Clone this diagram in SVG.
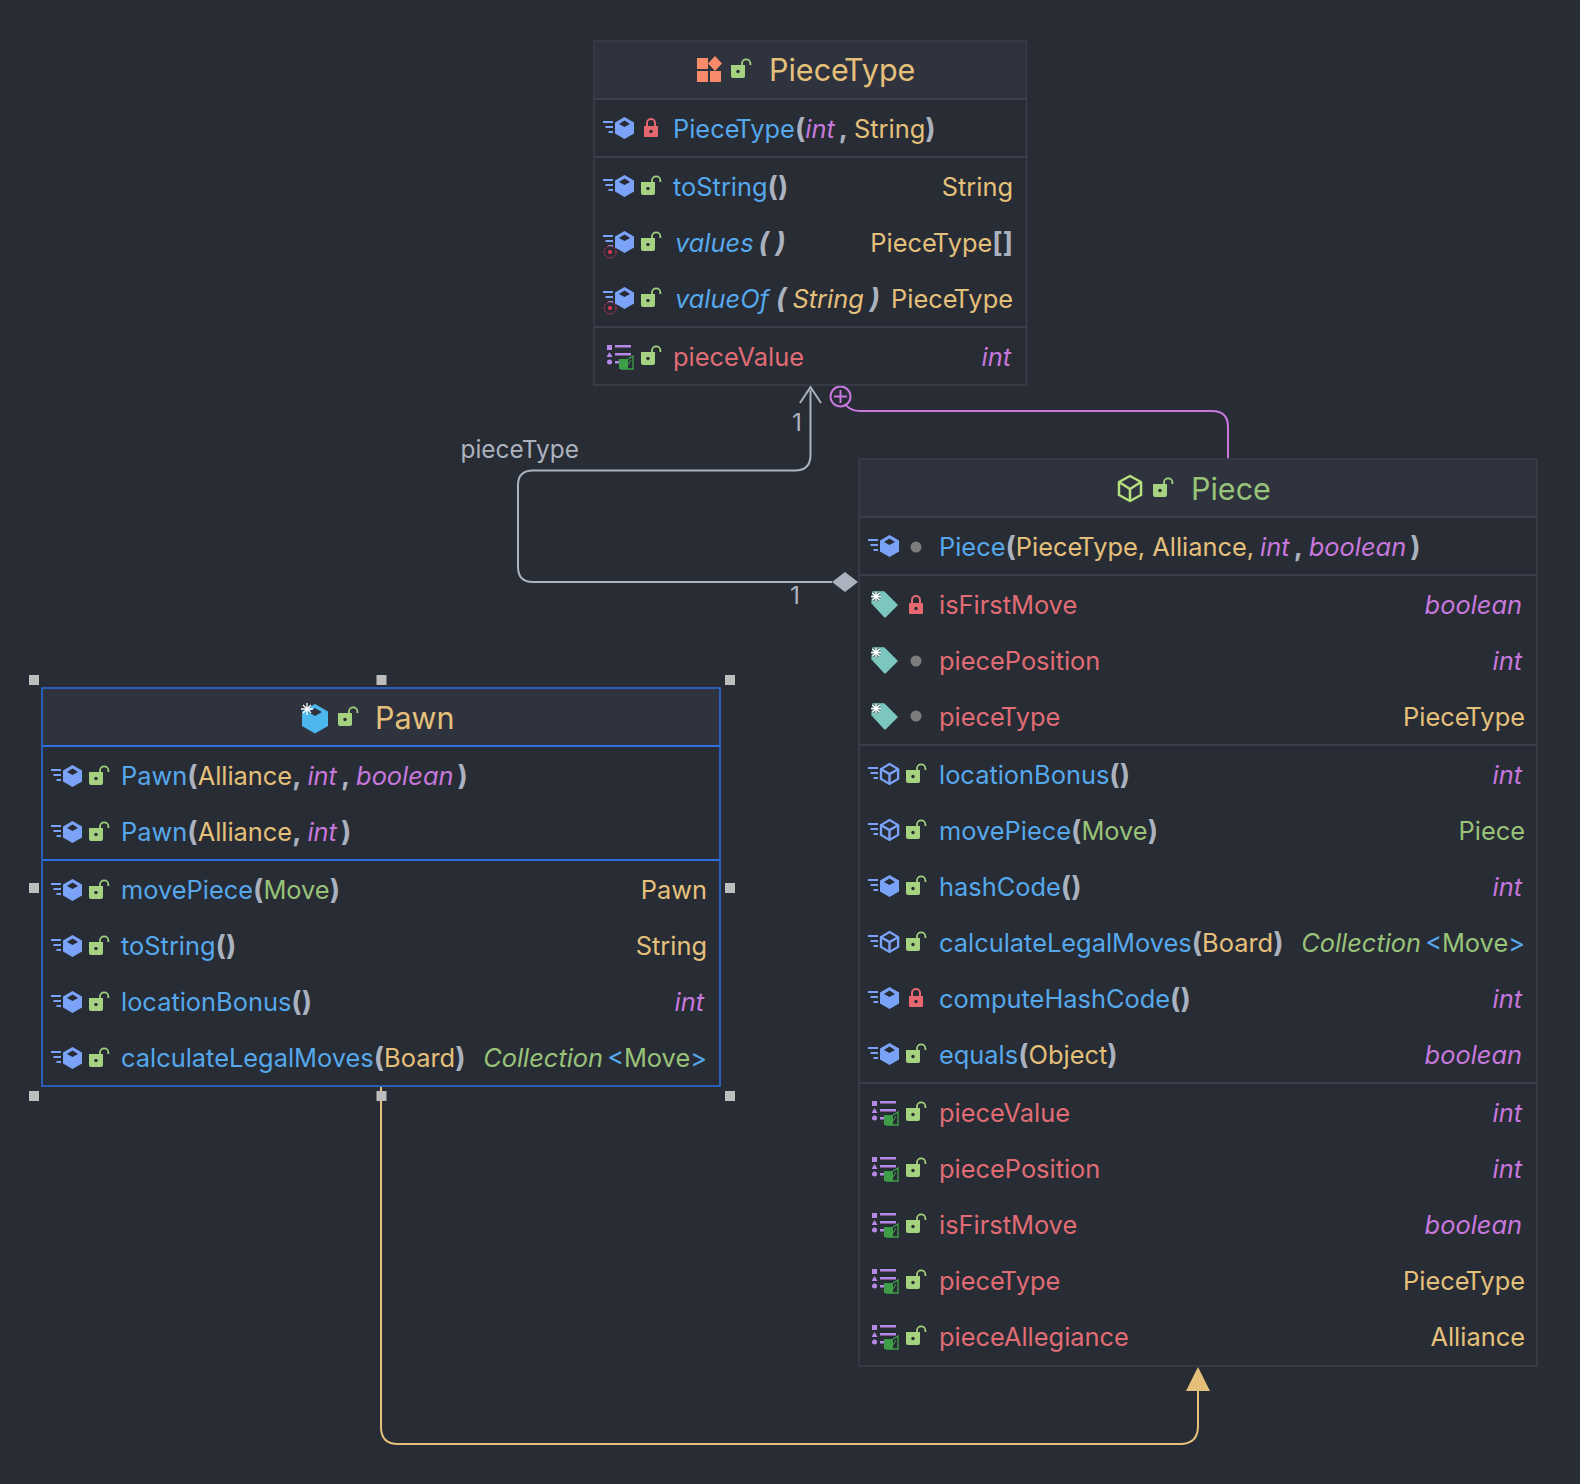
<svg xmlns="http://www.w3.org/2000/svg" width="1580" height="1484" viewBox="0 0 1580 1484">
<style>
text{font-family:Inter,"Noto Sans","Liberation Sans",sans-serif;font-size:25.4px}
.tt{font-size:30.5px}
.lb{font-size:24.4px;fill:#abb2bf}
.r{text-anchor:end}
.b{fill:#56a8ec}.y{fill:#e5c07b}.p{fill:#c678dd}.g{fill:#98c379}.e{fill:#e06c75}.w{fill:#abb2bf;font-weight:700;font-size:27.5px}.i{font-style:italic}
.box{fill:#282c34;stroke:#3a3f4b;stroke-width:1.5}
.sel{fill:#282c34;stroke:#2d6fe0;stroke-width:1.5}
.hd{fill:#2f333e}
.sep{stroke:#3a3f4b;stroke-width:2}
.sep2{stroke:#2d6fe0;stroke-width:2}
.c{fill:none;stroke-width:2}
.h{fill:#bdbdbd}
</style>
<defs>
<path id="hex" d="M21.500 -20L31 -14.500V-3.500L21.500 2L12 -3.500V-14.500Z"/>
<g id="lines" fill="#7aa2f7"><rect x="0" y="-16" width="10" height="2"/><rect x="2.500" y="-11" width="7.500" height="2"/><rect x="5.500" y="-6" width="4.500" height="2"/></g>
<g id="m"><use href="#lines"/><use href="#hex" fill="#7aa2f7"/><path d="M21.500 -16.500L27 -13L21.500 -10L16 -13Z" fill="#282c34"/></g>
<g id="am"><use href="#lines"/><use href="#hex" fill="none" stroke="#7aa2f7" stroke-width="2.600" transform="translate(2.200 -.9) scale(.9)"/><path d="M13.500 -13.500L21.500 -9L29.500 -13.500M21.500 -9V1" fill="none" stroke="#7aa2f7" stroke-width="2.400"/></g>
<g id="sm"><use href="#m"/><circle cx="7" cy="1" r="6" fill="#282c34" stroke="#e8385a" stroke-width="1" stroke-dasharray="2 1.500"/><circle cx="7" cy="1" r="2" fill="#e8385a"/></g>
<g id="open"><path d="M-1 -13H13V-2a2 2 0 0 1-2 2H1a2 2 0 0 1-2-2Z" fill="#a5d27f"/><path d="M10 -13V-14.500a4.200 4.200 0 0 1 8.400 0V-13" fill="none" stroke="#a5d27f" stroke-width="1.800"/><circle cx="6" cy="-6.500" r="1.700" fill="#282c34"/></g>
<g id="lock"><path d="M0 -11H14V-1a1 1 0 0 1-1 1H1a1 1 0 0 1-1-1Z" fill="#e5676f"/><path d="M3 -11V-14a4 4 0 0 1 8 0V-11" fill="none" stroke="#e5676f" stroke-width="2"/><circle cx="7" cy="-5.500" r="1.700" fill="#282c34"/></g>
<circle id="dot" cx="7" cy="-8" r="5.500" fill="#7d7d7d"/>
<g id="tag"><path d="M3 -19H14L27 -6L15 6L2 -8Z" fill="#7cc7bd" stroke="#7cc7bd" stroke-width="1.500" stroke-linejoin="round"/><g stroke="#282c34" stroke-width="3"><path d="M1 -14.500H11M6 -19.500V-9.500M2.500 -18L9.500 -11M9.500 -18L2.500 -11" opacity=".5"/></g><g stroke="#fff" stroke-width="1.300"><path d="M1 -14.500H11M6 -19.500V-9.500M2.500 -18L9.500 -11M9.500 -18L2.500 -11"/></g></g>
<g id="f"><g fill="#b888e8"><rect x="0" y="-20" width="5" height="5"/><path d="M2.500 -13L5.500 -8H-.5Z"/><circle cx="2.500" cy="-3" r="2.500"/><rect x="8" y="-20" width="16" height="2.500"/><rect x="8" y="-12" width="16" height="2.500"/><rect x="8" y="-4" width="5" height="2.500"/></g><path d="M12 -6H21V4H12Z" fill="#3e9e48"/><path d="M21 -6L26 -9V4H14" fill="none" stroke="#3e9e48" stroke-width="1.300"/><path d="M21 0L24 -5" stroke="#3e9e48" stroke-width="1"/></g>
<g id="sq"><rect x="-5" y="-5" width="10" height="10" class="h"/></g>
</defs>
<rect width="1580" height="1484" fill="#282c34"/>

<g id="connectors">
<path class="c" stroke="#abb2bf" d="M810.500 390V455Q810.500 470.500 795 470.500H533Q518 470.500 518 485V567Q518 582 533 582H832"/>
<path class="c" stroke="#abb2bf" d="M800 403L810.500 387L821 403"/>
<path d="M832 582L845 572L858 582L845 592Z" fill="#abb2bf"/>
<text x="792" y="431" class="lb">1</text>
<text x="790" y="604" class="lb">1</text>
<text x="460.500" y="458" class="lb">pieceType</text>
<path class="c" stroke="#c678dd" d="M1228 459V427Q1228 411 1212 411H860Q850 411 845 404"/>
<circle cx="840.500" cy="396.500" r="10" fill="none" stroke="#c678dd" stroke-width="2"/>
<path d="M834 396.500H847M840.500 390V403" stroke="#c678dd" stroke-width="2"/>
<path class="c" stroke="#e5c07b" d="M381 1087V1427Q381 1444 398 1444H1180Q1198 1444 1198 1426V1388"/>
<path d="M1198 1367L1210 1391H1186Z" fill="#e5c07b"/>
</g>

<g id="PieceType">
<rect class="box" x="594" y="41" width="432.500" height="344"/>
<rect class="hd" x="595" y="42" width="430.500" height="57"/>
<path class="sep" d="M595 99H1026M595 157H1026M595 327H1026"/>
<g fill="#f98b6a"><rect x="697" y="58" width="11" height="11"/><rect x="697" y="71" width="11" height="11"/><rect x="710" y="71" width="11" height="11"/><path d="M715 56L722 63.500L715 71L708 63.500Z"/></g>
<use href="#open" x="732" y="78"/>
<text x="769" y="81" class="tt y">Piece<tspan dx="-2.500">Type</tspan></text>
<use href="#m" x="603" y="137"/><use href="#lock" x="644" y="137"/>
<text x="673" y="137.500"><tspan class="b">Piece<tspan dx="-2">Type</tspan></tspan><tspan class="w">(</tspan><tspan class="p i">int</tspan><tspan class="w" dx="4">,</tspan><tspan class="y" dx="6">String</tspan><tspan class="w">)</tspan></text>
<use href="#m" x="603" y="195"/><use href="#open" x="642" y="195"/>
<text x="673" y="195.500"><tspan class="b">toString</tspan><tspan class="w">()</tspan></text><text x="1013" y="195.500" class="r y">String</text>
<use href="#sm" x="603" y="251"/><use href="#open" x="642" y="251"/>
<text x="675" y="252"><tspan class="b i">values</tspan><tspan class="w i" dx="5">( )</tspan></text>
<text x="1013" y="252" class="r"><tspan class="y">Piece<tspan dx="-2">Type</tspan></tspan><tspan class="w">[]</tspan></text>
<use href="#sm" x="603" y="307"/><use href="#open" x="642" y="307"/>
<text x="675" y="308"><tspan class="b i">valueOf</tspan><tspan class="w i" dx="7">(</tspan><tspan class="y i" dx="6">String</tspan><tspan class="w i" dx="6">)</tspan></text><text x="1013" y="308" class="r y">Piece<tspan dx="-2">Type</tspan></text>
<use href="#f" x="607" y="365"/><use href="#open" x="642" y="365"/>
<text x="673" y="365.500" class="e">pieceValue</text><text x="1011" y="365.500" class="r p i">int</text>
</g>

<g id="Piece">
<rect class="box" x="859" y="459" width="678" height="907"/>
<rect class="hd" x="860" y="460" width="676" height="57"/>
<path class="sep" d="M860 517H1537M860 575H1537M860 745H1537M860 1083H1537"/>
<g fill="none" stroke="#b7e07f" stroke-width="2.500" stroke-linejoin="round"><path d="M1130 476L1141 482V495L1130 501L1119 495V482Z"/><path d="M1119 482L1130 489L1141 482M1130 489V501"/></g>
<use href="#open" x="1154" y="497"/>
<text x="1191" y="499.500" class="tt g">Piece</text>
<use href="#m" x="868" y="555"/><use href="#dot" x="909" y="555"/>
<text x="939" y="556"><tspan class="b">Piece</tspan><tspan class="w">(</tspan><tspan class="y">Piece<tspan dx="-2">Type</tspan>, Alliance,</tspan><tspan class="p i" dx="6">int</tspan><tspan class="w" dx="4">,</tspan><tspan class="p i" dx="6">boolean</tspan><tspan class="w" dx="4">)</tspan></text>
<use href="#tag" x="870" y="611"/><use href="#lock" x="909" y="614"/><text x="939" y="614" class="e">isFirstMove</text><text x="1522" y="614" class="r p i">boolean</text>
<use href="#tag" x="870" y="667"/><use href="#dot" x="909" y="669"/><text x="939" y="670" class="e">piecePosition</text><text x="1522" y="670" class="r p i">int</text>
<use href="#tag" x="870" y="723"/><use href="#dot" x="909" y="724"/><text x="939" y="725.500" class="e">piece<tspan dx="-2">Type</tspan></text><text x="1525" y="725.500" class="r y">Piece<tspan dx="-2">Type</tspan></text>
<use href="#am" x="868" y="783"/><use href="#open" x="907" y="783"/><text x="939" y="784"><tspan class="b">locationBonus</tspan><tspan class="w">()</tspan></text><text x="1522" y="784" class="r p i">int</text>
<use href="#am" x="868" y="839"/><use href="#open" x="907" y="839"/><text x="939" y="840"><tspan class="b">movePiece</tspan><tspan class="w">(</tspan><tspan class="g">Move</tspan><tspan class="w">)</tspan></text><text x="1525" y="840" class="r g">Piece</text>
<use href="#m" x="868" y="895"/><use href="#open" x="907" y="895"/><text x="939" y="896"><tspan class="b">hashCode</tspan><tspan class="w">()</tspan></text><text x="1522" y="896" class="r p i">int</text>
<use href="#am" x="868" y="951"/><use href="#open" x="907" y="951"/><text x="939" y="952"><tspan class="b">calculateLegalMoves</tspan><tspan class="w">(</tspan><tspan class="y">Board</tspan><tspan class="w">)</tspan></text><text x="1525" y="952" class="r"><tspan class="g i">Collection</tspan><tspan class="b" dx="4">&lt;</tspan><tspan class="g">Move</tspan><tspan class="b">&gt;</tspan></text>
<use href="#m" x="868" y="1007"/><use href="#lock" x="909" y="1007"/><text x="939" y="1008"><tspan class="b">computeHashCode</tspan><tspan class="w">()</tspan></text><text x="1522" y="1008" class="r p i">int</text>
<use href="#m" x="868" y="1063"/><use href="#open" x="907" y="1063"/><text x="939" y="1064"><tspan class="b">equals</tspan><tspan class="w">(</tspan><tspan class="y">Object</tspan><tspan class="w">)</tspan></text><text x="1522" y="1064" class="r p i">boolean</text>
<use href="#f" x="872" y="1121"/><use href="#open" x="907" y="1121"/><text x="939" y="1122" class="e">pieceValue</text><text x="1522" y="1122" class="r p i">int</text>
<use href="#f" x="872" y="1177"/><use href="#open" x="907" y="1177"/><text x="939" y="1178" class="e">piecePosition</text><text x="1522" y="1178" class="r p i">int</text>
<use href="#f" x="872" y="1233"/><use href="#open" x="907" y="1233"/><text x="939" y="1234" class="e">isFirstMove</text><text x="1522" y="1234" class="r p i">boolean</text>
<use href="#f" x="872" y="1289"/><use href="#open" x="907" y="1289"/><text x="939" y="1290" class="e">piece<tspan dx="-2">Type</tspan></text><text x="1525" y="1290" class="r y">Piece<tspan dx="-2">Type</tspan></text>
<use href="#f" x="872" y="1345"/><use href="#open" x="907" y="1345"/><text x="939" y="1346" class="e">pieceAllegiance</text><text x="1525" y="1346" class="r y">Alliance</text>
</g>

<g id="Pawn">
<rect class="sel" x="42" y="688" width="678" height="398"/>
<rect class="hd" x="43" y="689" width="676" height="56"/>
<path class="sep2" d="M43 746H720M43 860H720"/>
<path d="M315 704L328 711.500V726L315 733.500L302 726V711.500Z" fill="#4cb8ee"/><path d="M315 708L322 712L315 716L308 712Z" fill="#2f333e"/>
<g stroke="#fff" stroke-width="1.300"><path d="M301 709H313M307 703V715M303 705L311 713M311 705L303 713"/></g>
<use href="#open" x="339" y="726"/>
<text x="375" y="728.500" class="tt y">Pawn</text>
<use href="#m" x="51" y="785"/><use href="#open" x="90" y="785"/>
<text x="121" y="785"><tspan class="b">Pawn</tspan><tspan class="w">(</tspan><tspan class="y">Alliance</tspan><tspan class="w">,</tspan><tspan class="p i" dx="6">int</tspan><tspan class="w" dx="4">,</tspan><tspan class="p i" dx="6">boolean</tspan><tspan class="w" dx="4">)</tspan></text>
<use href="#m" x="51" y="841"/><use href="#open" x="90" y="841"/>
<text x="121" y="841"><tspan class="b">Pawn</tspan><tspan class="w">(</tspan><tspan class="y">Alliance</tspan><tspan class="w">,</tspan><tspan class="p i" dx="6">int</tspan><tspan class="w" dx="4">)</tspan></text>
<use href="#m" x="51" y="899"/><use href="#open" x="90" y="899"/>
<text x="121" y="899"><tspan class="b">movePiece</tspan><tspan class="w">(</tspan><tspan class="g">Move</tspan><tspan class="w">)</tspan></text><text x="707" y="899" class="r y">Pawn</text>
<use href="#m" x="51" y="955"/><use href="#open" x="90" y="955"/>
<text x="121" y="955"><tspan class="b">toString</tspan><tspan class="w">()</tspan></text><text x="707" y="955" class="r y">String</text>
<use href="#m" x="51" y="1011"/><use href="#open" x="90" y="1011"/>
<text x="121" y="1011"><tspan class="b">locationBonus</tspan><tspan class="w">()</tspan></text><text x="704" y="1011" class="r p i">int</text>
<use href="#m" x="51" y="1067"/><use href="#open" x="90" y="1067"/>
<text x="121" y="1067"><tspan class="b">calculateLegalMoves</tspan><tspan class="w">(</tspan><tspan class="y">Board</tspan><tspan class="w">)</tspan></text><text x="707" y="1067" class="r"><tspan class="g i">Collection</tspan><tspan class="b" dx="4">&lt;</tspan><tspan class="g">Move</tspan><tspan class="b">&gt;</tspan></text>
</g>

<g id="selection-handles">
<use href="#sq" x="34" y="680"/><use href="#sq" x="381.500" y="680"/><use href="#sq" x="730" y="680"/>
<use href="#sq" x="34" y="888"/><use href="#sq" x="730" y="888"/>
<use href="#sq" x="34" y="1096"/><use href="#sq" x="381.500" y="1096"/><use href="#sq" x="730" y="1096"/>
</g>
</svg>
